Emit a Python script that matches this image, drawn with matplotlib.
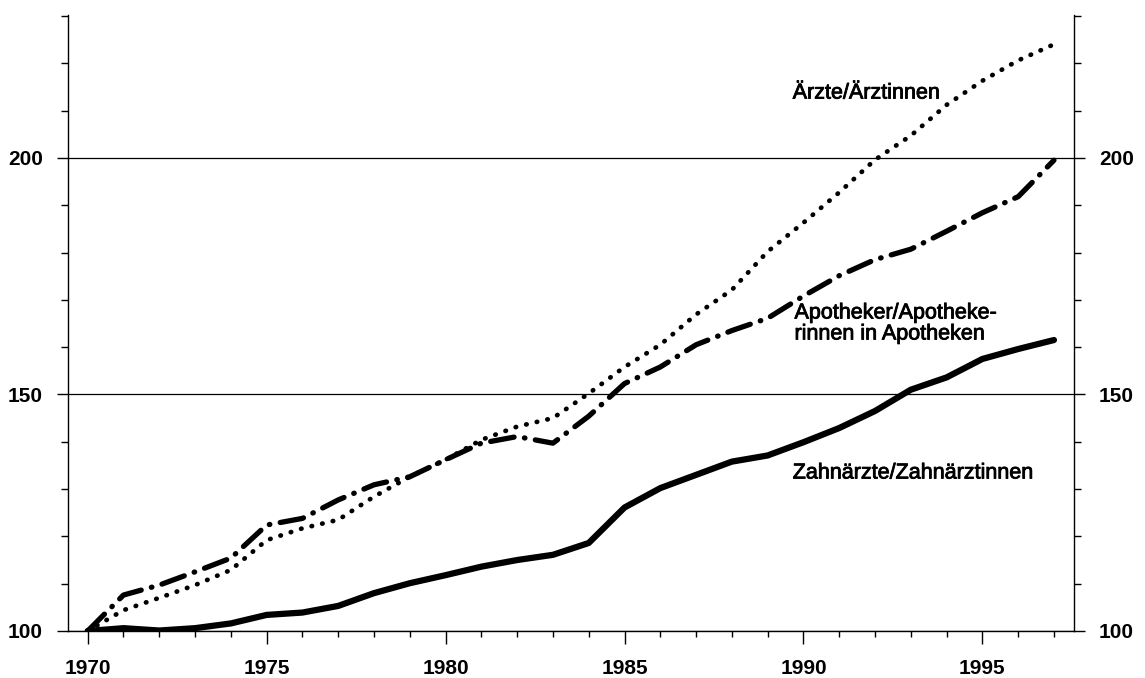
import numpy as np
import matplotlib.pyplot as plt
import matplotlib.patheffects as pe
from matplotlib.ticker import MultipleLocator

plt.rcParams['font.family'] = ['Liberation Sans', 'DejaVu Sans']

# Index 1970 = 100
years = list(range(1970, 1998))
aerzte = [100, 104.4, 107.0, 109.7, 112.9, 119.2, 121.7, 123.5, 128.4, 132.6,
          136.2, 140.4, 143.2, 145.0, 150.2, 155.8, 160.5, 166.9, 172.1, 180.2,
          186.3, 192.7, 199.6, 204.7, 211.2, 216.3, 220.6, 224.0]
apotheker = [100, 107.6, 109.7, 112.5, 115.4, 122.4, 123.8, 127.7, 130.9, 132.6,
             136.2, 139.7, 141.1, 139.7, 145.4, 152.3, 155.8, 160.5, 163.5, 166.1,
             170.8, 175.1, 178.5, 180.7, 184.5, 188.4, 191.8, 199.5]
zahnaerzte = [100, 100.6, 100.1, 100.6, 101.6, 103.4, 103.9, 105.3, 108.0, 110.1,
              111.8, 113.6, 115.0, 116.1, 118.6, 126.1, 130.2, 133.0, 135.8, 137.1,
              139.9, 142.9, 146.5, 151.0, 153.6, 157.5, 159.6, 161.5]

label_aerzte = 'Ärzte/Ärztinnen'
label_apotheker = 'Apotheker/Apotheke-\nrinnen in Apotheken'
label_zahn = 'Zahnärzte/Zahnärztinnen'

fig = plt.figure(figsize=(11.45, 6.78), dpi=100)
ax = fig.add_axes([68 / 1145, 47 / 678, 1006 / 1145, 616 / 678])

ax.plot(years, aerzte, color='black', lw=3.4, linestyle=(0, (0.1, 2.2)),
        dash_capstyle='round')
ax.plot(years, apotheker, color='black', lw=3.8, linestyle=(0, (4.5, 2, 0.1, 2)),
        dash_capstyle='round', solid_joinstyle='round')
ax.plot(years, zahnaerzte, color='black', lw=4.5, solid_capstyle='round',
        solid_joinstyle='round')

ax.set_xlim(1969.45, 1997.56)
ax.set_ylim(100, 230.2)

ax.xaxis.set_major_locator(MultipleLocator(5))
ax.xaxis.set_minor_locator(MultipleLocator(1))
ax.yaxis.set_major_locator(MultipleLocator(50))
ax.yaxis.set_minor_locator(MultipleLocator(10))

ax.spines['top'].set_visible(False)
for s in ['left', 'right', 'bottom']:
    ax.spines[s].set_linewidth(1.0)

ax.tick_params(axis='y', which='both', left=True, right=True, labelleft=True,
               labelright=True, direction='out')
ax.tick_params(axis='y', which='major', length=8, width=1, pad=10)
ax.tick_params(axis='y', which='minor', length=5, width=1)
ax.tick_params(axis='x', which='major', length=9, width=1, pad=11)
ax.tick_params(axis='x', which='minor', length=4, width=1)
for lab in ax.get_xticklabels() + ax.get_yticklabels():
    lab.set_fontsize(15)
    lab.set_fontweight('bold')
for t in ax.yaxis.get_major_ticks():
    t.label2.set_fontsize(15)
    t.label2.set_fontweight('bold')

ax.grid(axis='y', which='major', color='black', lw=0.9)

heavy = [pe.withStroke(linewidth=0.6, foreground='black')]
ax.text(1989.7, 213.7, label_aerzte, fontsize=15.5, va='center', ha='left',
        path_effects=heavy)
ax.text(1989.75, 165.0, label_apotheker, fontsize=15.5, va='center', ha='left',
        linespacing=1.0, path_effects=heavy)
ax.text(1989.7, 133.4, label_zahn, fontsize=15.5, va='center', ha='left',
        path_effects=heavy)

fig.savefig('out.png', dpi=100)
